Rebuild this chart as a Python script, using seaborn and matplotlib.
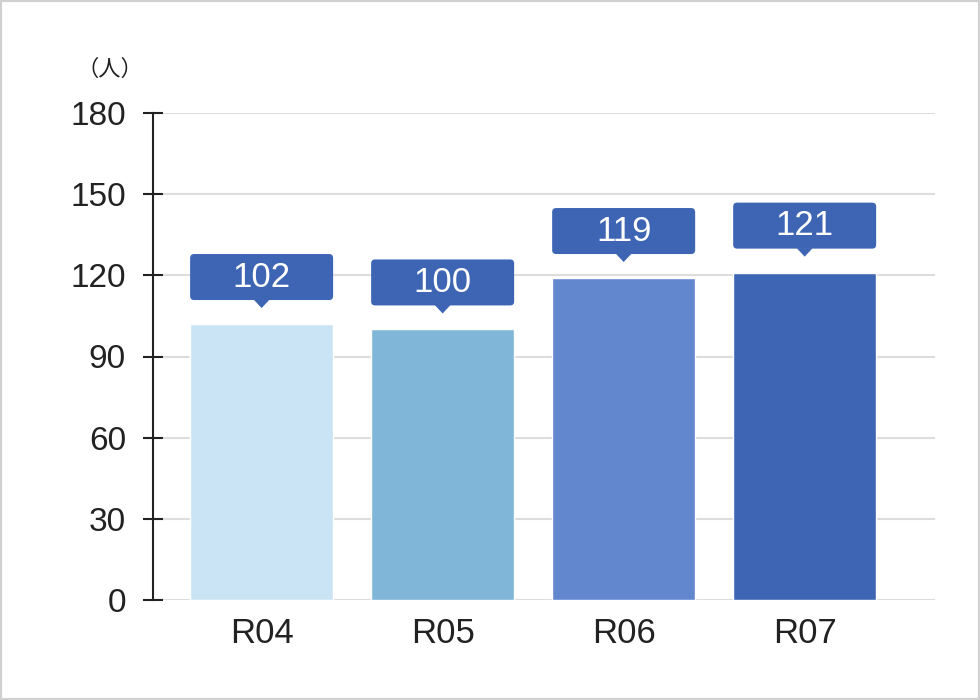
import numpy as np
import pandas as pd
import matplotlib
matplotlib.use("Agg")
import matplotlib.pyplot as plt
import seaborn as sns
from matplotlib.patches import FancyBboxPatch, Polygon, Rectangle

years = ["R04", "R05", "R06", "R07"]
counts = [102, 100, 119, 121]
bar_colors = ["#cbe4f5", "#80b6d7", "#6287ce", "#3d65b4"]
yticks = [0, 30, 60, 90, 120, 150, 180]
unit_label = "（人）"

sns.set_theme(style="white")
plt.rcParams['font.family'] = ['Liberation Sans', 'Noto Sans CJK JP', 'DejaVu Sans']

df = pd.DataFrame({"year": years, "count": counts})

fig = plt.figure(figsize=(9.8, 7), dpi=100)
ax = fig.add_axes([153/980, 1-600/700, (935-153)/980, (600-113)/700])

sns.barplot(data=df, x="year", y="count", hue="year", palette=bar_colors,
            width=0.79, legend=False, ax=ax, saturation=1, zorder=2)

ax.set_xlim(-0.6, 3.72)
ax.set_ylim(0, 180)
ax.set_yticks(yticks)
ax.set_xlabel("")
ax.set_ylabel("")
ax.yaxis.grid(True, color="#dddddd", linewidth=1.5, zorder=0)
ax.set_axisbelow(True)
for sp in ["top", "right", "bottom"]:
    ax.spines[sp].set_visible(False)
ax.spines["left"].set_color("#222222")
ax.spines["left"].set_linewidth(1.5)
ax.tick_params(axis="y", left=True, direction="inout", length=15, width=1.5,
               color="#222222", labelsize=24, labelcolor="#222222", pad=12)
ax.tick_params(axis="x", length=0, labelsize=25, labelcolor="#222222", pad=12)

# value callouts above bars
px_x = 1 / 181.0
px_y = 180.0 / 487.0
half_w = 0.79 / 2
for i, v in enumerate(counts):
    b0 = v + 24 * px_y
    h = 46 * px_y
    box = FancyBboxPatch((i - half_w, b0), 0.79, h,
                         boxstyle="round,pad=0,rounding_size=%f" % (4 * px_x),
                         mutation_aspect=px_y / px_x,
                         facecolor="#3d65b4", edgecolor="none", zorder=3, clip_on=False)
    ax.add_patch(box)
    tri = Polygon([(i - 8 * px_x, b0 + 0.5 * px_y), (i + 8 * px_x, b0 + 0.5 * px_y),
                   (i, v + 16 * px_y)], closed=True, facecolor="#3d65b4",
                  edgecolor="none", zorder=3, clip_on=False)
    ax.add_patch(tri)
    ax.text(i, b0 + h / 2, str(v), ha="center", va="center", color="white",
            fontsize=25, zorder=4)

fig.text(110/980, 1-70/700, unit_label, ha="center", va="center", fontsize=16,
         color="#222222")

fig.patches.append(Rectangle((0, 0), 1, 1, transform=fig.transFigure, fill=False,
                             edgecolor="#d0d0d0", linewidth=3))

fig.savefig("out.png", dpi=100)
